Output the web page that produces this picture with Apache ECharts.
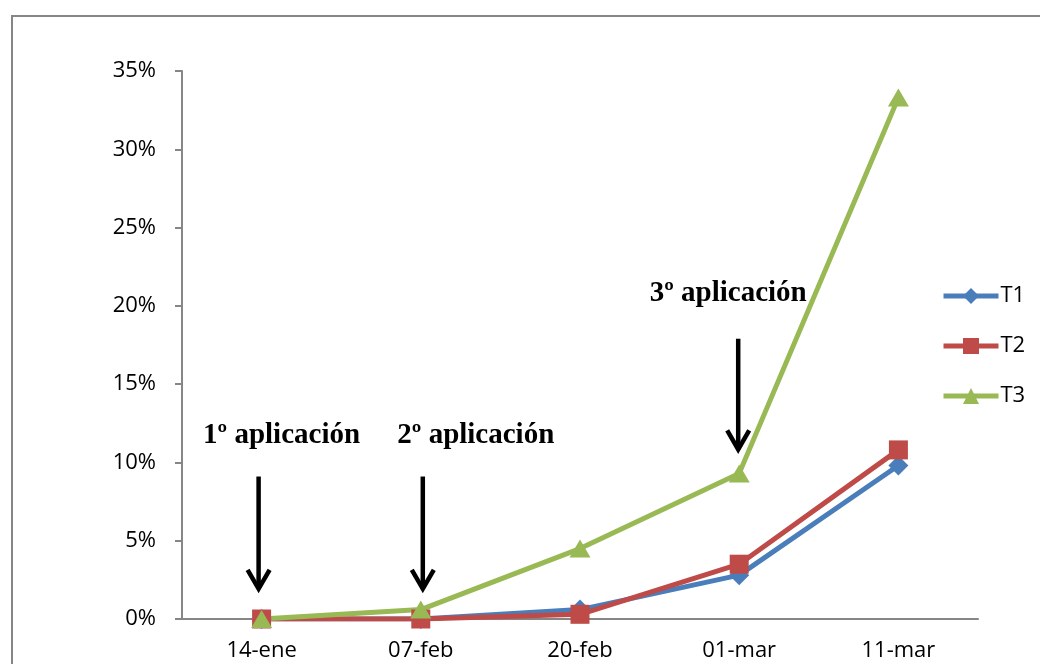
<!DOCTYPE html>
<html>
<head>
<meta charset="utf-8">
<script src="https://cdn.jsdelivr.net/npm/echarts@6/dist/echarts.min.js"></script>
<style>
  html, body { margin: 0; padding: 0; background: #fff; }
  #chart { width: 1040px; height: 664px; }
</style>
</head>
<body>
<div id="chart"></div>
<script>
// Sampling dates
const categories = ['14-ene', '07-feb', '20-feb', '01-mar', '11-mar'];

// Percent values per treatment
const t1 = [0, 0, 0.6, 2.8, 9.8];
const t2 = [0, 0, 0.3, 3.5, 10.8];
const t3 = [0, 0.6, 4.5, 9.3, 33.3];

// Application labels: category index, text value, arrow top and bottom (in %)
const appCats = [0, 1, 3];
const appTexts = ['1º aplicación', '2º aplicación', '3º aplicación'];
const appTextVal = [11.7, 11.7, 20.8];
const appArrowTop = [9.1, 9.1, 17.9];
const appArrowBottom = [1.8, 1.8, 10.7];

const chart = echarts.init(document.getElementById('chart'));
const axisGray = '#868686';
const labelFont = '"Open Sans", "Noto Sans", sans-serif';

function mkSeries(name, data, color, symbol, size) {
  return {
    name: name,
    type: 'line',
    data: data,
    symbol: symbol,
    symbolSize: size,
    lineStyle: { color: color, width: 5 },
    itemStyle: { color: color },
    animation: false
  };
}

chart.setOption({
  animation: false,
  grid: { left: 182, top: 71, right: 62, bottom: 45 },
  legend: {
    orient: 'vertical',
    left: 936,
    top: 280,
    itemWidth: 55,
    itemHeight: 20,
    itemGap: 28,
    lineStyle: { width: 5 },
    textStyle: { fontFamily: labelFont, fontSize: 22, color: '#000', padding: [0, 0, 0, -3] },
    data: ['T1', 'T2', 'T3']
  },
  xAxis: {
    type: 'category',
    data: categories,
    boundaryGap: true,
    axisLine: { lineStyle: { color: axisGray, width: 2 } },
    axisTick: { length: 8, lineStyle: { color: axisGray, width: 2 } },
    axisLabel: { fontFamily: labelFont, fontSize: 22, color: '#000', margin: 21 }
  },
  yAxis: {
    type: 'value',
    min: 0,
    max: 35,
    interval: 5,
    axisLine: { show: true, lineStyle: { color: axisGray, width: 2 } },
    axisTick: { show: true, length: 7, lineStyle: { color: axisGray, width: 2 } },
    splitLine: { show: false },
    axisLabel: { fontFamily: labelFont, fontSize: 22, color: '#000', margin: 26, formatter: '{value}%' }
  },
  series: [
    mkSeries('T1', t1, '#4A7EBB', 'diamond', 20),
    mkSeries('T2', t2, '#BE4B48', 'rect', 19),
    mkSeries('T3', t3, '#98B954', 'triangle', [21, 18])
  ]
});

// Frame and application annotations, positioned through the chart's scales
const graphics = [{
  type: 'rect',
  shape: { x: 12, y: 16, width: 1100, height: 700 },
  style: { fill: 'none', stroke: axisGray, lineWidth: 2 },
  silent: true
}];

const arrowShift = [-3, 2, -1];
const textShift = [20, 55, -11];

appCats.forEach(function (ci, i) {
  const top = chart.convertToPixel({ gridIndex: 0 }, [ci, appArrowTop[i]]);
  const bot = chart.convertToPixel({ gridIndex: 0 }, [ci, appArrowBottom[i]]);
  const txt = chart.convertToPixel({ gridIndex: 0 }, [ci, appTextVal[i]]);
  const x = top[0] + arrowShift[i];
  graphics.push({
    type: 'line',
    shape: { x1: x, y1: top[1], x2: x, y2: bot[1] - 2 },
    style: { stroke: '#000', lineWidth: 4.5 }
  });
  graphics.push({
    type: 'polyline',
    shape: { points: [[x - 11, bot[1] - 21], [x, bot[1] - 2], [x + 11, bot[1] - 21]] },
    style: { stroke: '#000', lineWidth: 4.5, fill: 'none' }
  });
  graphics.push({
    type: 'text',
    x: txt[0] + textShift[i],
    y: txt[1],
    style: {
      text: appTexts[i],
      font: 'bold 29px "Liberation Serif", "Times New Roman", serif',
      fill: '#000',
      align: 'center',
      verticalAlign: 'middle'
    }
  });
});

chart.setOption({ graphic: graphics });
</script>
</body>
</html>
